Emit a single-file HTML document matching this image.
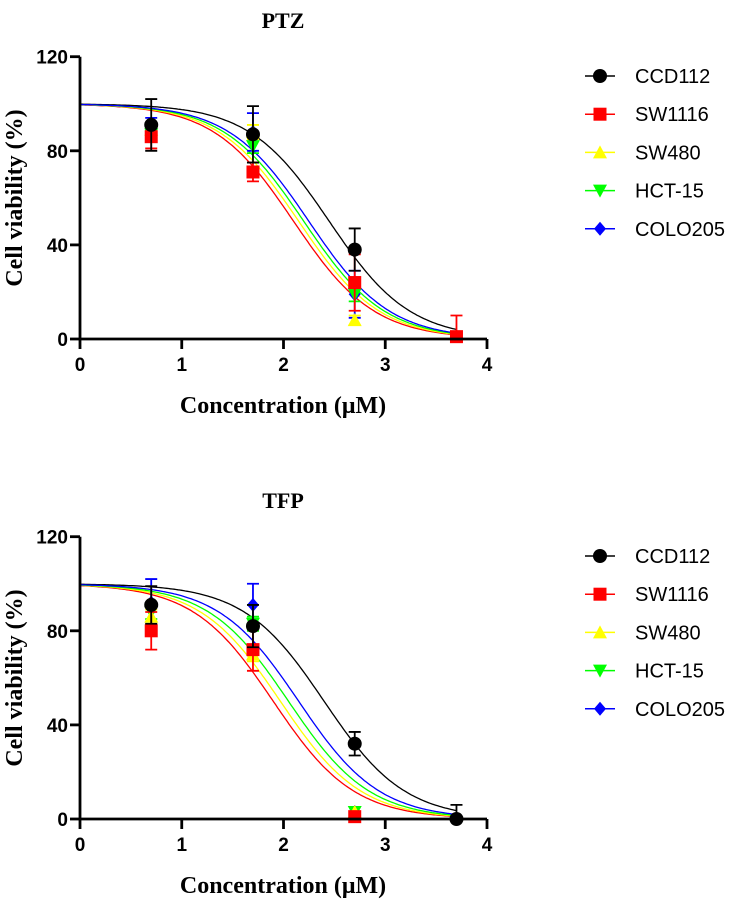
<!DOCTYPE html>
<html><head><meta charset="utf-8"><style>
body{margin:0;background:#fff;}
svg{display:block;}
.tk{font-family:"Liberation Sans",sans-serif;font-weight:bold;font-size:19px;}
.ttl{font-family:"Liberation Serif",serif;font-weight:bold;font-size:22px;}
.ax{font-family:"Liberation Serif",serif;font-weight:bold;font-size:24px;}
.lg{font-family:"Liberation Sans",sans-serif;font-size:20px;}
</style></head><body>
<svg id="c" width="740" height="899" xmlns="http://www.w3.org/2000/svg"></svg>
<script>
const seriesNames = ["CCD112","SW1116","SW480","HCT-15","COLO205"];
const seriesColors = ["#000000","#ff0000","#ffff00","#00ff00","#0000ff"];
const xTicks = [0,1,2,3,4];
const yTicks = [0,40,80,120];
const doses = [0.7,1.7,2.7,3.7];
// PTZ
const ptzIC50 = [2.45,2.1,2.15,2.2,2.25];
const ptzHill = [1.1,1.1,1.1,1.1,1.1];
const ptzMeans = [[91,87,38,null],[86,71,24,1],[89,88,8,null],[87,82,19,null],[90,88,19,null]];
const ptzErr = [[11,12,9,0],[5,4,12,9],[3,3,2,0],[3,3,3,0],[4,8,10,0]];
// TFP
const tfpIC50 = [2.4,1.9,1.97,2.05,2.15];
const tfpHill = [1.1,1.1,1.1,1.1,1.1];
const tfpMeans = [[91,82,32,0],[80,72,1,null],[86,70,3,null],[88,83,3,null],[92,91,3,null]];
const tfpErr = [[8,9,5,6],[8,9,0,0],[3,3,0,0],[3,3,0,0],[10,9,0,0]];

const svg=document.getElementById('c');
const NS="http://www.w3.org/2000/svg";
function mk(t,a,p){const e=document.createElementNS(NS,t);for(const k in a)e.setAttribute(k,a[k]);(p||svg).appendChild(e);return e;}
function marker(i,cx,cy,col,p){
  if(i===0)return mk('circle',{cx:cx,cy:cy,r:7,fill:col},p);
  if(i===1)return mk('rect',{x:cx-6.5,y:cy-6.5,width:13,height:13,fill:col},p);
  if(i===2)return mk('path',{d:`M${cx},${cy-7}L${cx+7},${cy+6}L${cx-7},${cy+6}Z`,fill:col},p);
  if(i===3)return mk('path',{d:`M${cx},${cy+7}L${cx+7},${cy-6}L${cx-7},${cy-6}Z`,fill:col},p);
  return mk('path',{d:`M${cx},${cy-7}L${cx+6},${cy}L${cx},${cy+7}L${cx-6},${cy}Z`,fill:col},p);
}

function panel(title,top,ic50,hill,means,err,key){
  const x0=80,x1=487,y0=top+283,y1=top+0.7;
  const sx=v=>x0+(x1-x0)*v/4, sy=v=>y0-(y0-y1)*v/120;
  const g=mk('g',{});
  
  
  const t=mk('text',{x:283,y:top-28,'text-anchor':'middle',class:'ttl'},g);t.textContent=title;
  
  ic50.forEach((c,i)=>{
    let d='';for(let k=0;k<=200;k++){const xv=3.7*k/200;const yv=100/(1+Math.pow(10,(xv-c)*hill[i]));d+=(k?'L':'M')+sx(xv).toFixed(1)+','+sy(yv).toFixed(1);}
    const p=mk('path',{d:d,fill:'none',stroke:seriesColors[i],'stroke-width':1.3},g);
    
    
  });
  for(let i=seriesNames.length-1;i>=0;i--){
    means[i].forEach((m,j)=>{
      if(m===null)return;
      const cx=sx(doses[j]),cy=sy(m),e=err[i][j],col=seriesColors[i];
      if(e>0){
        const eg=mk('path',{d:`M${cx},${sy(m+e)}V${sy(Math.max(0,m-e))}M${cx-6},${sy(m+e)}h12M${cx-6},${sy(Math.max(0,m-e))}h12`,stroke:col,'stroke-width':1.8,fill:'none'},g);
        
        
      }
      const s=marker(i,cx,cy,col,g);
      
      
    });
  }
  const ax=mk('path',{d:`M${x0},${y1}V${y0}H${x1}`,stroke:'#000','stroke-width':2.8,fill:'none'},g);
  
  xTicks.forEach(v=>{
    mk('line',{x1:sx(v),x2:sx(v),y1:y0,y2:y0+10,stroke:'#000','stroke-width':2.8},g);
    const tx=mk('text',{x:sx(v),y:y0+32,'text-anchor':'middle',class:'tk'},g);tx.textContent=v;
    
  });
  yTicks.forEach(v=>{
    mk('line',{x1:x0-10,x2:x0,y1:sy(v),y2:sy(v),stroke:'#000','stroke-width':2.8},g);
    const ty=mk('text',{x:x0-12,y:sy(v)+7,'text-anchor':'end',class:'tk'},g);ty.textContent=v;
    
  });
  const xl=mk('text',{x:283,y:y0+74,'text-anchor':'middle',class:'ax'},g);xl.textContent='Concentration (μM)';
  
  const yl=mk('text',{x:0,y:0,'text-anchor':'middle',class:'ax',transform:`translate(22,${top+142}) rotate(-90)`},g);yl.textContent='Cell viability (%)';
  
  seriesNames.forEach((n,i)=>{
    const ly=top+20+i*38.2,cx=600,col=seriesColors[i];
    const lg=mk('g',{},g);
    
    
    mk('line',{x1:585,x2:615,y1:ly,y2:ly,stroke:col,'stroke-width':1.5},lg);
    marker(i,cx,ly,col,lg);
    const lt=mk('text',{x:635,y:ly+7,class:'lg'},lg);lt.textContent=n;
  });
}
panel('PTZ',56,ptzIC50,ptzHill,ptzMeans,ptzErr,'ptz');
panel('TFP',536,tfpIC50,tfpHill,tfpMeans,tfpErr,'tfp');
</script>
</body></html>
